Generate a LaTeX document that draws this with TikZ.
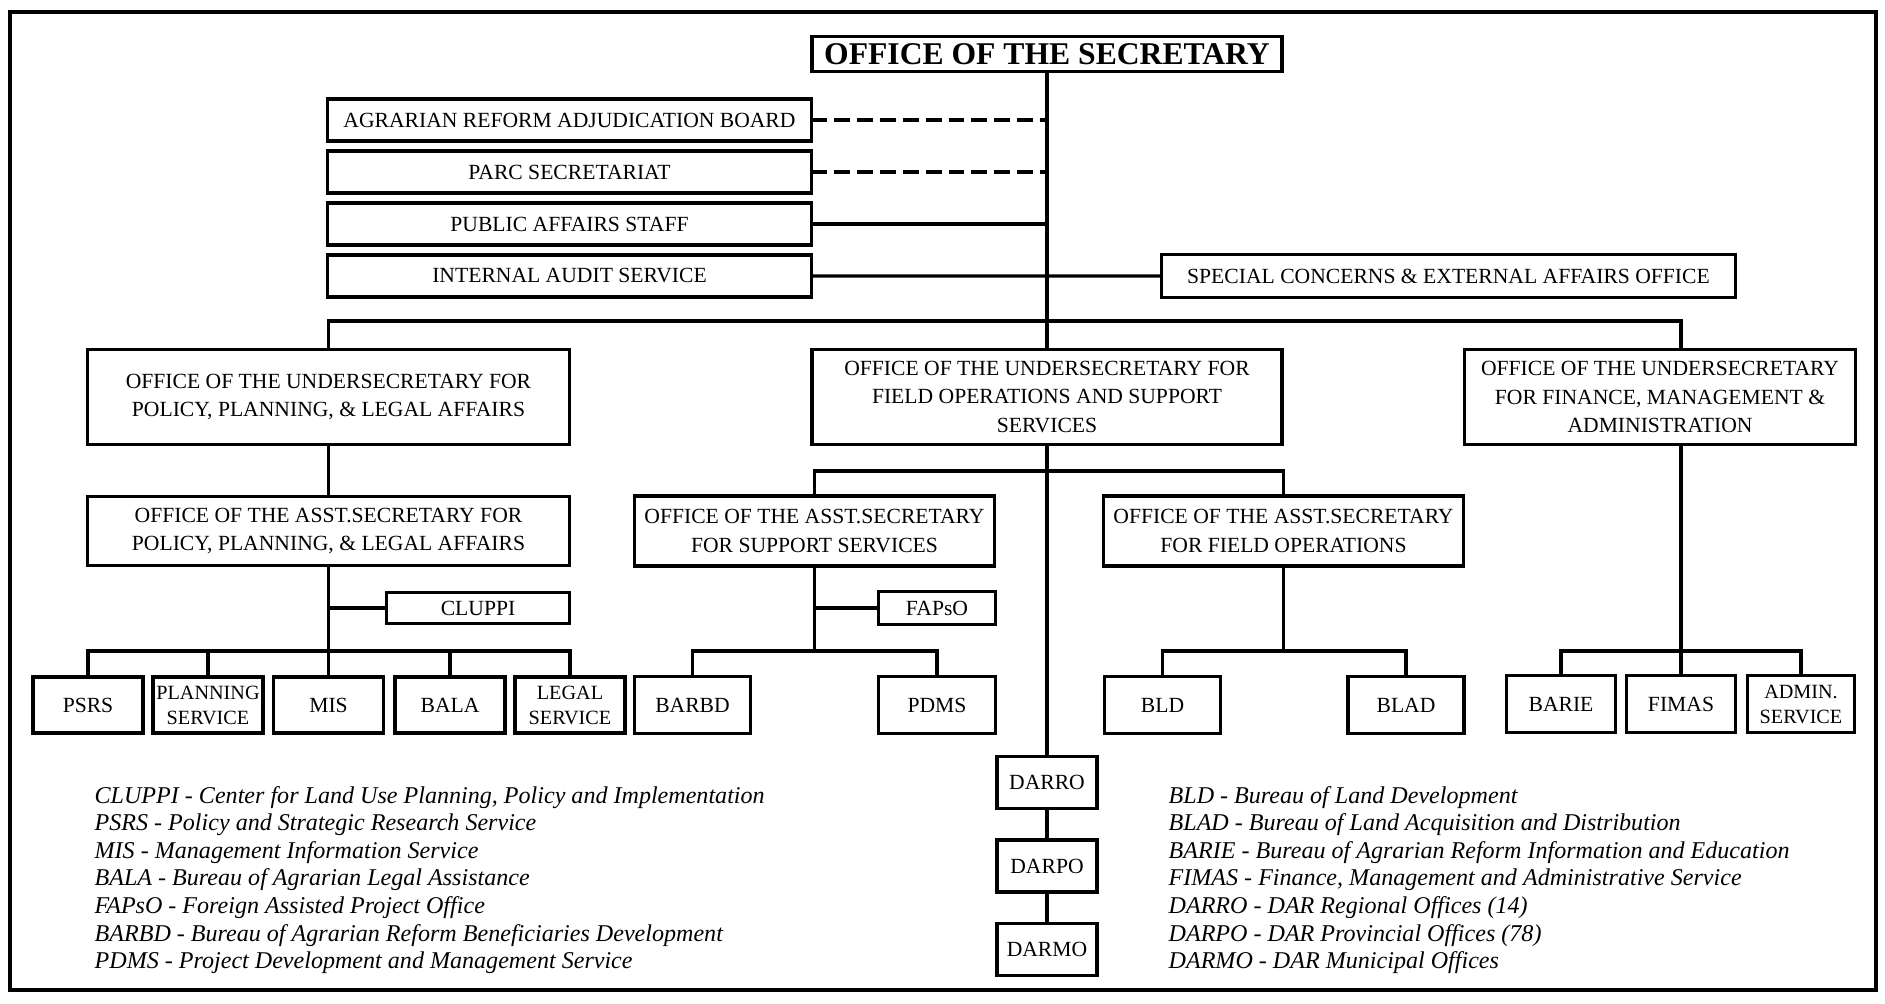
\documentclass[tikz,border=0pt]{standalone}
\usepackage{fontspec}
\setmainfont{Liberation Serif}
\usepackage{tikz}
\usetikzlibrary{positioning}
\tikzset{node distance=0.2cm}
\tikzstyle{block} = [draw, fill=white, rectangle, line width=2.1pt, inner sep=1pt, outer sep=0pt, text centered, align=center, font=\boxfont]
\tikzstyle{small} = [font=\smallfont]
\tikzstyle{junction} = [coordinate]
\tikzstyle{dashlink} = [dash pattern=on 9pt off 4pt]
\tikzstyle{legend} = [align=left, inner sep=0pt, anchor=west, font=\legendfont]
\newcommand{\boxfont}{\fontsize{12.3}{16}\selectfont}
\newcommand{\smallfont}{\fontsize{11.5}{14.2}\selectfont}
\newcommand{\titlefont}{\fontsize{18}{20}\selectfont\bfseries}
\newcommand{\legendfont}{\fontsize{13.7}{15.7}\selectfont\itshape}

\begin{document}
\begin{tikzpicture}[line width=1.9pt]
		\useasboundingbox (0,0) rectangle (37.7,-20.06);
		\draw [line width=2.4pt] (0.2,-0.24) rectangle (37.52,-19.8);

		\node [block, font=\titlefont, minimum width=9.4cm, minimum height=0.7cm] at (20.94,-1.08) (sec) {OFFICE OF THE SECRETARY};

		\node [block, minimum width=9.68cm, minimum height=0.84cm] at (11.39,-2.4) (arab) {AGRARIAN REFORM ADJUDICATION BOARD};
		\node [block, minimum width=9.68cm, minimum height=0.84cm, below=of arab] (parc) {PARC SECRETARIAT};
		\node [block, minimum width=9.68cm, minimum height=0.84cm, below=of parc] (pas) {PUBLIC AFFAIRS STAFF};
		\node [block, minimum width=9.68cm, minimum height=0.84cm, below=of pas] (ias) {INTERNAL AUDIT SERVICE};
		\node [block, minimum width=11.48cm, minimum height=0.86cm] at (28.97,-5.52) (scea) {SPECIAL CONCERNS \& EXTERNAL AFFAIRS OFFICE};

		\node [block, minimum width=9.64cm, minimum height=1.9cm] at (6.57,-7.94) (us_ppla) {OFFICE OF THE UNDERSECRETARY FOR\\POLICY, PLANNING, \& LEGAL AFFAIRS};
		\node [block, minimum width=9.4cm, minimum height=1.9cm] at (20.94,-7.94) (us_foss) {OFFICE OF THE UNDERSECRETARY FOR\\FIELD OPERATIONS AND SUPPORT\\SERVICES};
		\node [block, minimum width=7.82cm, minimum height=1.9cm] at (33.2,-7.94) (us_fma) {OFFICE OF THE UNDERSECRETARY\\FOR FINANCE, MANAGEMENT \&\\ADMINISTRATION};

		\node [block, minimum width=9.64cm, minimum height=1.38cm] at (6.57,-10.62) (as_ppla) {OFFICE OF THE ASST.SECRETARY FOR\\POLICY, PLANNING, \& LEGAL AFFAIRS};
		\node [block, minimum width=7.2cm, minimum height=1.4cm] at (16.29,-10.62) (as_ss) {OFFICE OF THE ASST.SECRETARY\\FOR SUPPORT SERVICES};
		\node [block, minimum width=7.2cm, minimum height=1.4cm] at (25.67,-10.62) (as_fo) {OFFICE OF THE ASST.SECRETARY\\FOR FIELD OPERATIONS};

		\node [block, minimum width=3.66cm, minimum height=0.62cm] at (9.56,-12.16) (cluppi) {CLUPPI};
		\node [block, minimum width=2.34cm, minimum height=0.66cm] at (18.74,-12.16) (fapso) {FAPsO};

		\node [junction] at (20.94,-6.42) (j_top) {};
		\node [junction] at (20.94,-9.42) (j_foss) {};
		\node [junction] at (6.57,-13.02) (j_ppla) {};
		\node [junction] at (16.29,-13.02) (j_ss) {};
		\node [junction] at (25.67,-13.02) (j_fo) {};
		\node [junction] at (33.62,-13.02) (j_fma) {};

		\node [block, minimum width=2.2cm, minimum height=1.12cm] at (1.76,-14.1) (psrs) {PSRS};
		\node [block, small, minimum width=2.2cm, minimum height=1.12cm] at (4.16,-14.1) (plan_s) {PLANNING\\SERVICE};
		\node [block, minimum width=2.2cm, minimum height=1.12cm] at (6.57,-14.1) (mis) {MIS};
		\node [block, minimum width=2.2cm, minimum height=1.12cm] at (9.0,-14.1) (bala) {BALA};
		\node [block, small, minimum width=2.2cm, minimum height=1.12cm] at (11.4,-14.1) (legal_s) {LEGAL\\SERVICE};

		\node [block, minimum width=2.32cm, minimum height=1.14cm] at (13.85,-14.1) (barbd) {BARBD};
		\node [block, minimum width=2.34cm, minimum height=1.14cm] at (18.74,-14.1) (pdms) {PDMS};
		\node [block, minimum width=2.32cm, minimum height=1.14cm] at (23.25,-14.1) (bld) {BLD};
		\node [block, minimum width=2.32cm, minimum height=1.14cm] at (28.12,-14.1) (blad) {BLAD};

		\node [block, minimum width=2.18cm, minimum height=1.14cm] at (31.22,-14.08) (barie) {BARIE};
		\node [block, minimum width=2.18cm, minimum height=1.14cm] at (33.62,-14.08) (fimas) {FIMAS};
		\node [block, small, minimum width=2.14cm, minimum height=1.14cm] at (36.02,-14.08) (admin_s) {ADMIN.\\SERVICE};

		\node [block, minimum width=2.0cm, minimum height=1.04cm] at (20.94,-15.65) (darro) {DARRO};
		\node [block, minimum width=2.0cm, minimum height=1.04cm, below=0.63cm of darro] (darpo) {DARPO};
		\node [block, minimum width=2.0cm, minimum height=1.04cm, below=0.63cm of darpo] (darmo) {DARMO};

		\node [legend] at (1.86,-17.6) (legend_l) {CLUPPI - Center for Land Use Planning, Policy and Implementation\\
			PSRS - Policy and Strategic Research Service\\
			MIS - Management Information Service\\
			BALA - Bureau of Agrarian Legal Assistance\\
			FAPsO - Foreign Assisted Project Office\\
			BARBD - Bureau of Agrarian Reform Beneficiaries Development\\
			PDMS - Project Development and Management Service};
		\node [legend] at (23.34,-17.6) (legend_r) {BLD - Bureau of Land Development\\
			BLAD - Bureau of Land Acquisition and Distribution\\
			BARIE - Bureau of Agrarian Reform Information and Education\\
			FIMAS - Finance, Management and Administrative Service\\
			DARRO - DAR Regional Offices (14)\\
			DARPO - DAR Provincial Offices (78)\\
			DARMO - DAR Municipal Offices};

		\draw [dashlink] (arab) -- (arab -| sec);
		\draw [dashlink] (parc) -- (parc -| sec);
		\draw (pas) -- (pas -| sec);
		\draw (ias) -- (scea);
		\draw (sec) -- (us_foss);
		\draw (us_ppla) |- (j_top) -| (us_fma.north -| fimas);

		\draw (us_ppla) -- (as_ppla);
		\draw (as_ppla) -- (j_ppla);
		\draw (cluppi) -- (cluppi -| as_ppla);
		\draw (psrs) |- (j_ppla) -| (legal_s);
		\draw (plan_s) -- (plan_s |- j_ppla);
		\draw (mis) -- (j_ppla);
		\draw (bala) -- (bala |- j_ppla);

		\draw (as_ss) |- (j_foss) -| (as_fo);
		\draw (us_foss) -- (darro);
		\draw (as_ss) -- (j_ss);
		\draw (fapso) -- (fapso -| as_ss);
		\draw (barbd) |- (j_ss) -| (pdms);
		\draw (as_fo) -- (j_fo);
		\draw (bld) |- (j_fo) -| (blad);

		\draw (us_fma.south -| fimas) -- (fimas);
		\draw (barie) |- (j_fma) -| (admin_s);

		\draw (darro) -- (darpo);
		\draw (darpo) -- (darmo);
	\end{tikzpicture}
\end{document}
